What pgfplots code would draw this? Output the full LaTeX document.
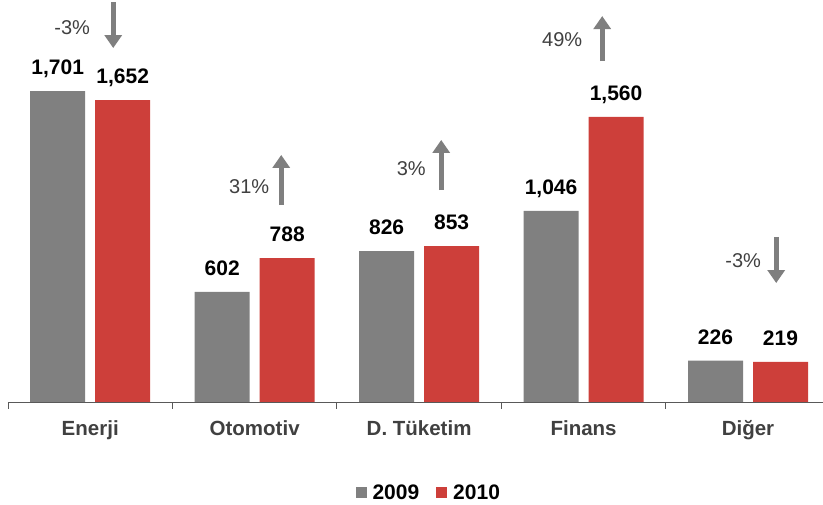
\documentclass[border=0pt]{standalone}
\usepackage{fontspec}
\setmainfont{Liberation Sans}
\usepackage{pgfplots}
\pgfplotsset{compat=1.18}
\usetikzlibrary{arrows.meta}
\definecolor{bargray}{HTML}{808080}
\definecolor{barred}{HTML}{CD3F3A}
\definecolor{txtgray}{HTML}{404040}
\definecolor{arrgray}{HTML}{7F7F7F}
\definecolor{axgray}{HTML}{595959}
\begin{document}
\begin{tikzpicture}[x=1pt,y=1pt]
\begin{axis}[
  at={(8pt,103pt)}, anchor=south west,
  scale only axis, width=815pt, height=402pt,
  xmin=-0.5, xmax=4.456, ymin=0, ymax=2200,
  ybar=10pt, bar width=55pt,
  axis x line*=bottom, axis y line=none,
  x axis line style={color=axgray, line width=0.9pt},
  tick align=outside,
  xtick={0,1,2,3,4},
  xticklabels={Enerji,Otomotiv,D. Tüketim,Finans,Diğer},
  major tick length=0pt,
  minor xtick={-0.5,0.5,1.5,2.5,3.5},
  minor tick length=7pt,
  minor tick style={color=axgray, line width=0.9pt},
  xticklabel style={font=\bfseries\fontsize{20.5}{24}\selectfont, text=txtgray, anchor=base, yshift=-34pt, inner sep=0pt},
  clip=false,
  nodes near coords,
  every node near coord/.append style={font=\bfseries\fontsize{21}{25}\selectfont, text=black, inner sep=0pt, text depth=0pt, yshift=16pt},
  /pgf/number format/assume math mode=true,
  /pgf/number format/1000 sep={,},
  legend columns=2,
  legend cell align=left,
  legend style={at={(0.515,-0.2239)}, anchor=center, draw=none, fill=none, inner sep=0pt,
    font=\bfseries\fontsize{21}{25}\selectfont,
    nodes={inner sep=0pt, text depth=0pt},
    /tikz/every even column/.append style={column sep=17pt},
    /tikz/every odd column/.append style={column sep=6pt}},
  legend image code/.code={\fill[#1] (0pt,-5.5pt) rectangle (11pt,5.5pt);},
]
\addplot[fill=bargray, draw=none] coordinates {(0,1701) (1,602) (2,826) (3,1046) (4,226)};
\addplot[fill=barred, draw=none] coordinates {(0,1652) (1,788) (2,853) (3,1560) (4,219)};
\legend{2009,2010}

% percentage annotations
\node[font=\fontsize{20}{24}\selectfont, text=txtgray] at (axis cs:-0.1095,2047) {-3\%};
\draw[arrgray, line width=5pt, -{Triangle[width=17pt,length=13pt]}] (axis cs:0.1399,2189) -- (axis cs:0.1399,1937);

\node[font=\fontsize{20}{24}\selectfont, text=txtgray] at (axis cs:0.9669,1177) {31\%};
\draw[arrgray, line width=5pt, -{Triangle[width=17pt,length=13pt]}] (axis cs:1.1615,1078) -- (axis cs:1.1615,1352);

\node[font=\fontsize{20}{24}\selectfont, text=txtgray] at (axis cs:1.952,1275) {3\%};
\draw[arrgray, line width=5pt, -{Triangle[width=17pt,length=13pt]}] (axis cs:2.1344,1160) -- (axis cs:2.1344,1434);

\node[font=\fontsize{20}{24}\selectfont, text=txtgray] at (axis cs:2.870,1981) {49\%};
\draw[arrgray, line width=5pt, -{Triangle[width=17pt,length=13pt]}] (axis cs:3.1134,1866) -- (axis cs:3.1134,2112);

\node[font=\fontsize{20}{24}\selectfont, text=txtgray] at (axis cs:3.971,772) {-3\%};
\draw[arrgray, line width=5pt, -{Triangle[width=17pt,length=13pt]}] (axis cs:4.1715,903) -- (axis cs:4.1715,651);
\end{axis}
\pgfresetboundingbox
\path (0pt,0pt) rectangle (823pt,505pt);
\end{tikzpicture}
\end{document}
